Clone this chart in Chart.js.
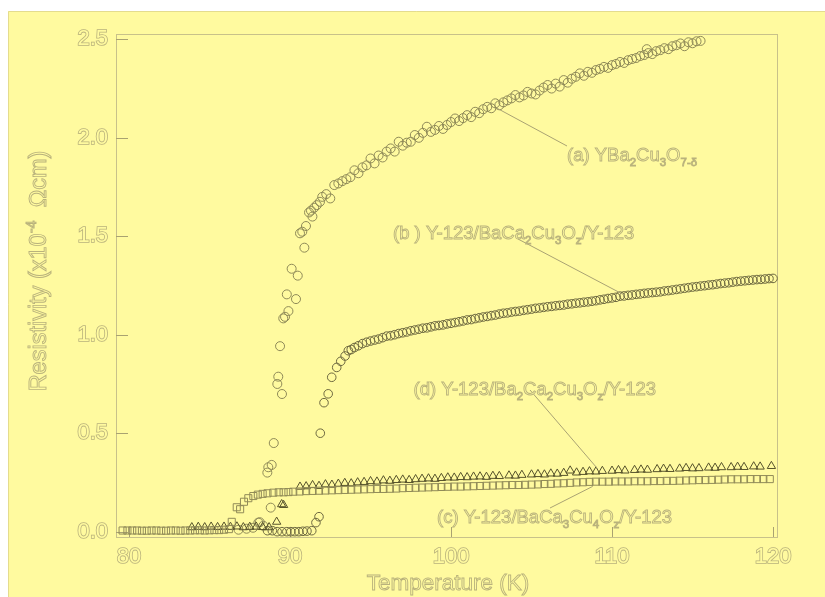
<!DOCTYPE html>
<html>
<head>
<meta charset="utf-8">
<script src="https://cdn.jsdelivr.net/npm/chart.js@4/dist/chart.umd.min.js"></script>
<style>
  html, body { margin: 0; padding: 0; background: #ffffff; }
  #wrap { width: 825px; height: 597px; }
</style>
</head>
<body>
<div id="wrap"><canvas id="chart" width="825" height="597"></canvas></div>
<script>
// ---- measured resistivity, x10^-4 ohm cm, against temperature in K ----

// (a) YBa2Cu3O7-d single film
const tempA = [
  86.8, 87.3, 87.7, 88.03, 88.12, 88.34, 88.59, 88.65, 88.8, 88.86, 88.99,
  89.21, 89.27, 89.38, 89.5, 89.58, 89.69, 89.8, 89.9, 90.1, 90.37, 90.48,
  90.62, 90.76, 90.89, 90.99, 91.18, 91.3, 91.39, 91.5, 91.66, 91.86,
  92.0, 92.25, 92.5, 92.75, 93.0, 93.25, 93.5, 93.75, 94.0, 94.25, 94.5, 94.75,
  95.0, 95.25, 95.5, 95.75, 96.0, 96.25, 96.5, 96.75, 97.0, 97.25, 97.5, 97.75,
  98.0, 98.25, 98.5, 98.75, 99.0, 99.25, 99.5, 99.75, 100.0, 100.25, 100.5, 100.75,
  101.0, 101.25, 101.5, 101.75, 102.0, 102.25, 102.5, 102.75, 103.0, 103.25, 103.5, 103.75,
  104.0, 104.25, 104.5, 104.75, 105.0, 105.25, 105.5, 105.75, 106.0, 106.25, 106.5, 106.75,
  107.0, 107.25, 107.5, 107.75, 108.0, 108.25, 108.5, 108.75, 109.0, 109.25, 109.5, 109.75,
  110.0, 110.25, 110.5, 110.75, 111.0, 111.25, 111.5, 111.75, 112.0, 112.16, 112.25, 112.5, 112.75,
  113.0, 113.25, 113.5, 113.75, 114.0, 114.25, 114.5, 114.75, 115.0, 115.25, 115.5
];
const rhoA = [
  0.01, 0.015, 0.02, 0.046, 0.048, 0.03, 0.30, 0.327, 0.122, 0.339, 0.45,
  0.75, 0.787, 0.942, 0.699, 1.083, 1.091, 1.205, 1.12, 1.335, 1.181, 1.30,
  1.515, 1.523, 1.442, 1.552, 1.621, 1.63, 1.60, 1.645, 1.658, 1.675,
  1.70, 1.714, 1.692, 1.76, 1.768, 1.78, 1.79, 1.80, 1.835, 1.82, 1.85, 1.86,
  1.895, 1.87, 1.91, 1.90, 1.93, 1.946, 1.93, 1.98, 1.96, 1.975, 1.98, 2.014,
  2.00, 2.025, 2.056, 2.03, 2.04, 2.06, 2.045, 2.065, 2.08, 2.098, 2.085, 2.10,
  2.115, 2.105, 2.132, 2.125, 2.145, 2.157, 2.15, 2.175, 2.165, 2.18, 2.19, 2.20,
  2.217, 2.205, 2.215, 2.233, 2.225, 2.22, 2.24, 2.255, 2.268, 2.25, 2.275, 2.26,
  2.293, 2.28, 2.30, 2.31, 2.327, 2.315, 2.335, 2.33, 2.344, 2.35, 2.36, 2.355,
  2.369, 2.375, 2.385, 2.38, 2.394, 2.40, 2.405, 2.415, 2.42, 2.45, 2.43, 2.425, 2.44,
  2.445, 2.455, 2.45, 2.465, 2.47, 2.479, 2.465, 2.485, 2.48, 2.49, 2.492
];

// (b) Y-123/BaCa2Cu3Oz/Y-123
const tempB = [
  88.6, 88.9, 89.2, 89.5, 89.8, 90.05, 90.3, 90.55, 90.8, 91.05, 91.35, 91.61, 91.8,
  91.88, 92.11, 92.37, 92.59, 92.9, 93.15, 93.42, 93.62, 93.8, 94.0, 94.24, 94.5, 94.75,
  95.0, 95.25, 95.5, 95.75, 96.0, 96.25, 96.5, 96.75, 97.0, 97.25, 97.5, 97.75,
  98.0, 98.25, 98.5, 98.75, 99.0, 99.25, 99.5, 99.75, 100.0, 100.25, 100.5, 100.75,
  101.0, 101.25, 101.5, 101.75, 102.0, 102.25, 102.5, 102.75, 103.0, 103.25, 103.5, 103.75,
  104.0, 104.25, 104.5, 104.75, 105.0, 105.25, 105.5, 105.75, 106.0, 106.25, 106.5, 106.75,
  107.0, 107.25, 107.5, 107.75, 108.0, 108.25, 108.5, 108.75, 109.0, 109.25, 109.5, 109.75,
  110.0, 110.25, 110.5, 110.75, 111.0, 111.25, 111.5, 111.75, 112.0, 112.25, 112.5, 112.75,
  113.0, 113.25, 113.5, 113.75, 114.0, 114.25, 114.5, 114.75, 115.0, 115.25, 115.5, 115.75,
  116.0, 116.25, 116.5, 116.75, 117.0, 117.25, 117.5, 117.75, 118.0, 118.25, 118.5, 118.75,
  119.0, 119.25, 119.5, 119.75, 120.0
];
const rhoB = [
  0.005, 0.005, 0.0, 0.0, 0.0, 0.0, 0.0, 0.0, 0.002, 0.003, 0.005, 0.046, 0.076,
  0.50, 0.655, 0.70, 0.784, 0.834, 0.865, 0.892, 0.919, 0.925, 0.935, 0.944, 0.955, 0.962,
  0.968, 0.973, 0.978, 0.985, 0.993, 0.995, 1.0, 1.006, 1.01, 1.014, 1.02, 1.024,
  1.028, 1.033, 1.035, 1.04, 1.045, 1.047, 1.05, 1.055, 1.058, 1.062, 1.066, 1.07,
  1.075, 1.077, 1.082, 1.086, 1.09, 1.093, 1.097, 1.10, 1.105, 1.109, 1.111, 1.115,
  1.118, 1.12, 1.124, 1.127, 1.13, 1.134, 1.136, 1.139, 1.142, 1.144, 1.147, 1.149,
  1.151, 1.155, 1.157, 1.16, 1.162, 1.165, 1.167, 1.17, 1.173, 1.177, 1.18, 1.184,
  1.187, 1.19, 1.196, 1.197, 1.20, 1.202, 1.205, 1.207, 1.21, 1.212, 1.214, 1.216,
  1.218, 1.222, 1.224, 1.227, 1.23, 1.233, 1.236, 1.239, 1.242, 1.244, 1.247, 1.249,
  1.252, 1.254, 1.257, 1.26, 1.262, 1.264, 1.267, 1.27, 1.272, 1.274, 1.276, 1.278,
  1.28, 1.281, 1.283, 1.285, 1.286
];

// (c) Y-123/BaCa3Cu4Oz/Y-123
const tempC = [
  79.6, 79.9, 80.2, 80.5, 80.8, 81.1, 81.4, 81.7, 82.0, 82.3, 82.6, 82.9, 83.2, 83.5,
  83.8, 84.1, 84.4, 84.7, 85.0, 85.3, 85.6, 85.9, 86.2, 86.38, 86.69, 86.9, 87.14, 87.41,
  87.72, 88.0, 88.3, 88.6, 88.96, 89.3, 89.6, 89.9, 90.2, 90.6, 91.0, 91.4, 91.8, 92.2,
  92.6, 93.0, 93.4, 93.8, 94.2, 94.6, 95.0, 95.4, 95.8, 96.2, 96.6, 97.0, 97.4, 97.8,
  98.2, 98.6, 99.0, 99.4, 99.8, 100.2, 100.6, 101.0, 101.4, 101.8, 102.2, 102.6, 103.0,
  103.4, 103.8, 104.2, 104.6, 105.0, 105.4, 105.8, 106.2, 106.6, 107.0, 107.4, 107.8,
  108.2, 108.6, 109.0, 109.4, 109.8, 110.2, 110.6, 111.0, 111.4, 111.8, 112.2, 112.6,
  113.0, 113.4, 113.8, 114.2, 114.6, 115.0, 115.4, 115.8, 116.2, 116.6, 117.0, 117.4,
  117.8, 118.2, 118.6, 119.0, 119.4, 119.8
];
const rhoC = [
  0.006, 0.006, 0.006, 0.006, 0.005, 0.005, 0.006, 0.006, 0.005, 0.005, 0.006, 0.006, 0.005, 0.006,
  0.006, 0.007, 0.007, 0.006, 0.007, 0.008, 0.008, 0.01, 0.013, 0.05, 0.124, 0.114, 0.152, 0.17,
  0.181, 0.188, 0.192, 0.195, 0.198, 0.2, 0.2, 0.201, 0.203, 0.204, 0.206, 0.207, 0.208, 0.209,
  0.21, 0.211, 0.212, 0.213, 0.214, 0.215, 0.216, 0.217, 0.217, 0.218, 0.219, 0.221, 0.222, 0.223,
  0.224, 0.225, 0.226, 0.227, 0.228, 0.229, 0.229, 0.23, 0.231, 0.232, 0.233, 0.234, 0.235,
  0.236, 0.237, 0.237, 0.238, 0.239, 0.24, 0.242, 0.243, 0.245, 0.246, 0.248, 0.25,
  0.251, 0.253, 0.254, 0.254, 0.254, 0.255, 0.255, 0.255, 0.256, 0.256, 0.256, 0.257,
  0.257, 0.258, 0.258, 0.259, 0.26, 0.261, 0.262, 0.262, 0.263, 0.264, 0.265, 0.266,
  0.266, 0.266, 0.267, 0.267, 0.267, 0.267
];

// (d) Y-123/Ba2Ca2Cu3Oz/Y-123
const tempD = [
  83.9, 84.3, 84.7, 85.1, 85.5, 85.9, 86.3, 86.7, 87.1, 87.5, 87.9, 88.3, 88.7,
  89.17, 89.48, 89.6, 90.62, 91.0, 91.4, 91.8, 92.2, 92.6, 93.0, 93.4, 93.8, 94.2,
  94.6, 95.0, 95.4, 95.8, 96.2, 96.6, 97.0, 97.4, 97.8, 98.2, 98.6, 99.0, 99.4, 99.8,
  100.2, 100.6, 101.0, 101.4, 101.8, 102.2, 102.6, 103.0, 103.6, 104.0, 104.4, 105.0,
  105.4, 105.8, 106.2, 106.6, 107.0, 107.4, 107.8, 108.2, 108.6, 109.0, 109.4, 110.0,
  110.4, 110.8, 111.4, 111.8, 112.2, 112.8, 113.2, 113.6, 114.2, 114.6, 115.0, 115.4,
  116.0, 116.4, 116.8, 117.4, 117.8, 118.2, 118.8, 119.2, 119.9
];
const rhoD = [
  0.022, 0.024, 0.022, 0.025, 0.023, 0.025, 0.024, 0.026, 0.022, 0.024, 0.025, 0.023, 0.022,
  0.05, 0.139, 0.135, 0.228, 0.23, 0.236, 0.232, 0.24, 0.238, 0.243, 0.247, 0.245, 0.25,
  0.252, 0.256, 0.254, 0.26, 0.258, 0.262, 0.264, 0.262, 0.266, 0.268, 0.27, 0.268, 0.272, 0.275,
  0.274, 0.277, 0.276, 0.279, 0.28, 0.278, 0.283, 0.282, 0.285, 0.284, 0.288, 0.29,
  0.292, 0.29, 0.295, 0.294, 0.298, 0.31, 0.30, 0.303, 0.306, 0.305, 0.308, 0.309,
  0.312, 0.31, 0.313, 0.315, 0.314, 0.317, 0.319, 0.318, 0.32, 0.323, 0.321, 0.322,
  0.325, 0.324, 0.327, 0.327, 0.329, 0.328, 0.331, 0.33, 0.333
];

const yTickValues = [0.0, 0.5, 1.0, 1.5, 2.0, 2.5];
const xTickValues = [80, 90, 100, 110, 120];

// ---- appearance ----
const FONT = '"Liberation Sans", Arial, Helvetica, sans-serif';
const BG = '#fffa9f';
const INK = '#b9b27c';
const FRAME = '#c8c18a';
const TICK = '#a9a271';
const LEADER = '#aaa373';

function pairs(xs, ys) {
  return xs.map((x, i) => ({ x: x, y: ys[i] }));
}

// draw a run of text pieces: [text, shift] where shift -1 = subscript, 1 = superscript
function richText(ctx, parts, x, y, size, align) {
  const widths = parts.map(([t, s]) => {
    ctx.font = (s ? size * 0.62 : size) + 'px ' + FONT;
    return ctx.measureText(t).width;
  });
  const total = widths.reduce((a, b) => a + b, 0);
  let cx = align === 'center' ? x - total / 2 : x;
  ctx.textAlign = 'left';
  ctx.textBaseline = 'alphabetic';
  parts.forEach(([t, s], i) => {
    ctx.font = (s ? size * 0.62 : size) + 'px ' + FONT;
    const dy = s === -1 ? size * 0.3 : s === 1 ? -size * 0.42 : 0;
    ctx.fillStyle = BG;
    ctx.fillText(t, cx, y + dy);
    ctx.strokeText(t, cx, y + dy);
    cx += widths[i];
  });
  return total;
}

const labels = [
  { parts: [['(a) YBa', 0], ['2', -1], ['Cu', 0], ['3', -1], ['O', 0], ['7-\u03b4', -1]],
    x: 567, y: 160.5, from: [567, 146], to: [102.86, 2.15] },
  { parts: [['(b ) Y-123/BaCa', 0], ['2', -1], ['Cu', 0], ['3', -1], ['O', 0], ['z', -1], ['/Y-123', 0]],
    x: 393, y: 238.5, from: [518, 239], to: [110.8, 1.20] },
  { parts: [['(d) Y-123/Ba', 0], ['2', -1], ['Ca', 0], ['2', -1], ['Cu', 0], ['3', -1], ['O', 0], ['z', -1], ['/Y-123', 0]],
    x: 413.5, y: 394.5, from: [530, 390], to: [109.1, 0.32] },
  { parts: [['(c) Y-123/BaCa', 0], ['3', -1], ['Cu', 0], ['4', -1], ['O', 0], ['z', -1], ['/Y-123', 0]],
    x: 437, y: 522.5, from: [550, 508], to: [108.8, 0.23] }
];

const decor = {
  id: 'decor',
  beforeDraw(chart) {
    const ctx = chart.ctx;
    ctx.save();
    ctx.fillStyle = '#ffffff';
    ctx.fillRect(0, 0, chart.width, chart.height);
    ctx.fillStyle = BG;
    ctx.fillRect(8, 11, chart.width - 8, chart.height - 11);
    ctx.strokeStyle = '#e4dc8e';
    ctx.lineWidth = 1;
    ctx.beginPath();
    ctx.moveTo(8.5, chart.height);
    ctx.lineTo(8.5, 11.5);
    ctx.lineTo(chart.width, 11.5);
    ctx.stroke();
    ctx.restore();
  },
  beforeDatasetsDraw(chart) {
    const ctx = chart.ctx;
    const a = chart.chartArea;
    const xs = chart.scales.x, ys = chart.scales.y;
    ctx.save();
    ctx.strokeStyle = FRAME;
    ctx.lineWidth = 1;
    ctx.strokeRect(a.left + 0.5, a.top + 0.5, a.right - a.left - 1, a.bottom - a.top);
    // inward tick marks
    ctx.strokeStyle = TICK;
    ctx.beginPath();
    yTickValues.forEach(v => {
      const py = Math.round(ys.getPixelForValue(v)) + 0.5;
      ctx.moveTo(a.left, py);
      ctx.lineTo(a.left + 12, py);
    });
    xTickValues.forEach(v => {
      const px = Math.round(xs.getPixelForValue(v)) + 0.5;
      ctx.moveTo(px, a.bottom);
      ctx.lineTo(px, a.bottom - 10);
    });
    ctx.stroke();
    ctx.restore();
  },
  afterDatasetsDraw(chart) {
    const ctx = chart.ctx;
    const xs = chart.scales.x, ys = chart.scales.y;
    ctx.save();
    // leader lines from each caption to its curve
    ctx.strokeStyle = LEADER;
    ctx.lineWidth = 1;
    labels.forEach(l => {
      ctx.beginPath();
      ctx.moveTo(l.from[0], l.from[1]);
      ctx.lineTo(xs.getPixelForValue(l.to[0]), ys.getPixelForValue(l.to[1]));
      ctx.stroke();
    });
    // captions
    ctx.strokeStyle = INK;
    ctx.lineWidth = 0.9;
    labels.forEach(l => richText(ctx, l.parts, l.x, l.y, 18.5, 'left'));
    // axis titles
    richText(ctx, [['Temperature (K)', 0]], 448, 590, 22.5, 'center');
    ctx.translate(46, 271);
    ctx.rotate(-Math.PI / 2);
    richText(ctx, [['Resistivity (x10', 0], ['-4', 1], ['  \u03a9cm)', 0]], 0, 0, 23.5, 'center');
    ctx.restore();
  }
};

const tickFont = { family: FONT, size: 22 };

new Chart(document.getElementById('chart'), {
  type: 'scatter',
  data: {
    datasets: [
      { label: '(c)', data: pairs(tempC, rhoC), pointStyle: 'rect', pointRadius: 5,
        borderColor: '#918b58', backgroundColor: 'transparent', borderWidth: 1 },
      { label: '(d)', data: pairs(tempD, rhoD), pointStyle: 'triangle', pointRadius: 4.8,
        borderColor: '#57532c', backgroundColor: 'transparent', borderWidth: 1 },
      { label: '(b)', data: pairs(tempB, rhoB), pointStyle: 'circle', pointRadius: 4.3,
        borderColor: '#6e6940', backgroundColor: 'transparent', borderWidth: 1 },
      { label: '(a)', data: pairs(tempA, rhoA), pointStyle: 'circle', pointRadius: 4.5,
        borderColor: '#8f8a58', backgroundColor: 'transparent', borderWidth: 1 }
    ]
  },
  options: {
    responsive: false,
    animation: false,
    devicePixelRatio: 1,
    layout: { padding: { left: 0, top: 34, right: 47, bottom: 0 } },
    plugins: { legend: { display: false }, tooltip: { enabled: false } },
    scales: {
      x: {
        type: 'linear', min: 79.19, max: 120.31,
        grid: { display: false, drawTicks: false },
        border: { display: false },
        afterBuildTicks: s => { s.ticks = xTickValues.map(v => ({ value: v })); },
        afterFit: s => { s.height = 60; },
        ticks: { padding: 7, maxRotation: 0, font: tickFont, color: BG,
                 textStrokeColor: INK, textStrokeWidth: 1.6,
                 callback: v => String(v) }
      },
      y: {
        type: 'linear', min: -0.027, max: 2.527,
        grid: { display: false, drawTicks: false },
        border: { display: false },
        afterBuildTicks: s => { s.ticks = yTickValues.map(v => ({ value: v })); },
        afterFit: s => { s.width = 116; },
        ticks: { padding: 8, font: tickFont, color: BG,
                 textStrokeColor: INK, textStrokeWidth: 1.6,
                 callback: v => Number(v).toFixed(1) }
      }
    }
  },
  plugins: [decor]
});
</script>
</body>
</html>
